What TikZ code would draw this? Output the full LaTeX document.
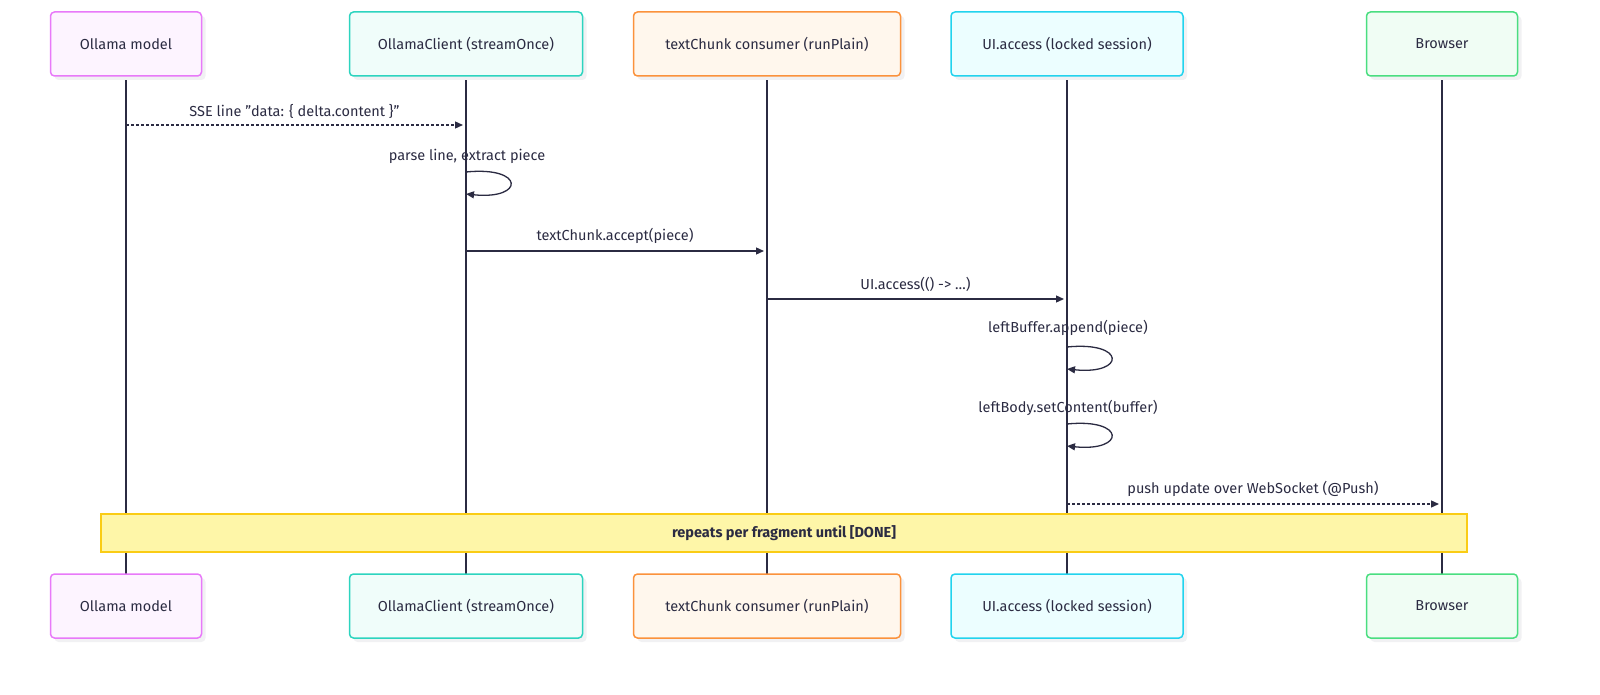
\documentclass[tikz,border=0pt]{standalone}
\usepackage{fontspec}
\setmainfont{Fira Sans}
\usetikzlibrary{arrows.meta}
\definecolor{ink}{HTML}{2B2B42}
\definecolor{pkS}{HTML}{E879F9}\definecolor{pkF}{HTML}{FDF4FF}
\definecolor{tlS}{HTML}{2DD4BF}\definecolor{tlF}{HTML}{F0FDFA}
\definecolor{orS}{HTML}{FB923C}\definecolor{orF}{HTML}{FFF7ED}
\definecolor{cyS}{HTML}{22D3EE}\definecolor{cyF}{HTML}{ECFEFF}
\definecolor{grS}{HTML}{4ADE80}\definecolor{grF}{HTML}{F0FDF4}
\definecolor{ylS}{HTML}{FACC15}\definecolor{ylF}{HTML}{FEF6A8}
\definecolor{shd}{HTML}{F1F1F3}
\begin{document}
\begin{tikzpicture}[x=1pt,y=-1pt,
  part/.style n args={3}{draw=#1, fill=#2, rounded corners=4pt, line width=1.5pt, minimum height=64pt, minimum width=#3, font=\fontsize{14.5}{16}\selectfont, text=ink},
  shadow/.style={fill=shd, rounded corners=4pt, minimum height=64pt, minimum width=#1},
  life/.style={draw=ink, line width=1.3pt},
  msg/.style={draw=ink, line width=1.3pt, -{Triangle[length=8pt,width=7pt]}},
  dmsg/.style={msg, dash pattern=on 2.5pt off 2.5pt},
  lab/.style={font=\fontsize{14.5}{16}\selectfont, text=ink}]
\useasboundingbox (0,0) rectangle (1600,695);
\foreach \x/\n in {126/a,466/b,767/c,1067/d,1442/e}{
  \draw[life] (\x,76) -- (\x,574);}
\foreach \y/\p in {44/t,606/u}{
  \foreach \x/\w in {126/151,466/233,767/267,1067/232,1442/151}{
    \node[shadow=\w pt] at (\x+4,\y+4) {};}
  \node[part={pkS}{pkF}{151pt}] (\p a) at (126,\y) {Ollama model};
  \node[part={tlS}{tlF}{233pt}] (\p b) at (466,\y) {OllamaClient (streamOnce)};
  \node[part={orS}{orF}{267pt}] (\p c) at (767,\y) {textChunk consumer (runPlain)};
  \node[part={cyS}{cyF}{232pt}] (\p d) at (1067,\y) {UI.access (locked session)};
  \node[part={grS}{grF}{151pt}] (\p e) at (1442,\y) {Browser};
}
% messages
\coordinate (m1s) at (126,125); \coordinate (m1e) at (463,125);
\draw[dmsg] (m1s) -- node[lab, above=3pt] {SSE line "data: \{ delta.content \}"} (m1e);
\coordinate (s1) at (466,172); \coordinate (s1e) at (466,194);
\node[lab] (l2) at (467,156) {parse line, extract piece};
\draw[msg] (s1) .. controls (525,166) and (525,200) .. (s1e);
\coordinate (m3s) at (466,251); \coordinate (m3e) at (764,251);
\draw[msg] (m3s) -- node[lab, above=3pt] {textChunk.accept(piece)} (m3e);
\coordinate (m4s) at (767,299); \coordinate (m4e) at (1064,299);
\draw[msg] (m4s) -- node[lab, above=3pt] {UI.access(() -> …)} (m4e);
\coordinate (s2) at (1067,347); \coordinate (s2e) at (1067,369);
\node[lab] (l5) at (1068,328) {leftBuffer.append(piece)};
\draw[msg] (s2) .. controls (1126,341) and (1126,375) .. (s2e);
\coordinate (s3) at (1067,424); \coordinate (s3e) at (1067,446);
\node[lab] (l6) at (1068,408) {leftBody.setContent(buffer)};
\draw[msg] (s3) .. controls (1126,418) and (1126,452) .. (s3e);
\coordinate (m7s) at (1067,504); \coordinate (m7e) at (1439,504);
\draw[dmsg] (m7s) -- node[lab, above=3pt] {push update over WebSocket (@Push)} (m7e);
% loop band
\node[draw=ylS, fill=ylF, line width=1.3pt, minimum width=1366pt, minimum height=38pt, font=\fontsize{14.5}{16}\selectfont\bfseries, text=ink] (band) at (784,533) {repeats per fragment until [DONE]};
\end{tikzpicture}
\end{document}
